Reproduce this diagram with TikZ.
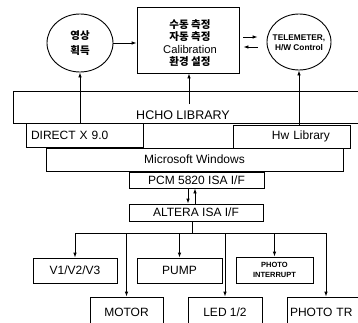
\documentclass[tikz,border=0pt]{standalone}
\usepackage{fontspec}
\setmainfont{Liberation Sans}
\newfontfamily\kr{Noto Sans CJK KR}
\usetikzlibrary{shapes.geometric,arrows.meta}
\begin{document}
\begin{tikzpicture}[x=1pt,y=-1pt,
  box/.style={draw, line width=0.9pt, rectangle, inner sep=0pt, font=\fontsize{12}{13.5}\selectfont},
  oval/.style={draw, line width=0.9pt, ellipse, inner sep=0pt},
  txt/.style={inner sep=0pt, align=center},
  arr/.style={line width=0.9pt, -{Latex[length=5pt,width=3.6pt]}},
  ln/.style={line width=0.9pt}]
\useasboundingbox (0,0) rectangle (358,322);
\clip (0,0) rectangle (358,322);
% top row
\node[oval, minimum width=66pt, minimum height=58pt] (acq) at (80,43) {};
\node[txt, font={\kr\bfseries\fontsize{10.5}{15}\selectfont}] (acqtxt) at (80,43) {영상\\획득};
\node[box, minimum width=102pt, minimum height=66pt] (main) at (188,40) {};
\node[txt, font=\fontsize{11.2}{12.6}\selectfont] (maintxt) at (190,43)
  {{\kr\bfseries\fontsize{10.5}{12.6}\selectfont 수동 측정}\\{\kr\bfseries\fontsize{10.5}{12.6}\selectfont 자동 측정}\\Calibration\\{\kr\bfseries\fontsize{10.5}{12.6}\selectfont 환경 설정}};
\node[oval, minimum width=64pt, minimum height=56pt] (tele) at (299,42) {};
\node[txt, font=\bfseries\fontsize{8.3}{10}\selectfont] (teletxt) at (299,43) {TELEMETER,\\H/W Control};
% libraries
\node[box, minimum width=349pt, minimum height=32pt] (hcho) at (187.5,107) {};
\node[txt, font=\fontsize{12.5}{14}\selectfont] (hchotxt) at (183,115) {HCHO LIBRARY};
\node[box, minimum height=24pt, text width=107pt, align=left, inner xsep=5pt] (dx) at (84.5,135) {DIRECT X 9.0};
\node[box, minimum height=23pt, text width=77pt, align=right, inner xsep=20pt] (hw) at (291.5,136.5) {Hw Library};
\node[box, minimum width=297pt, minimum height=23pt] (ms) at (194.5,159.5) {Microsoft Windows};
\node[box, minimum width=135pt, minimum height=16pt] (pcm) at (196.5,180) {PCM 5820 ISA I/F};
\node[box, minimum width=134pt, minimum height=17pt] (alt) at (196,212.5) {ALTERA ISA I/F};
% devices
\node[box, minimum width=84pt, minimum height=25pt] (v1) at (75,270.5) {V1/V2/V3};
\node[box, minimum width=85pt, minimum height=25pt] (pump) at (179.5,270.5) {PUMP};
\node[box, minimum width=77pt, minimum height=26pt, align=center, font=\bfseries\fontsize{7.5}{10}\selectfont] (pint) at (274.5,270) {PHOTO\\INTERRUPT};
\node[box, minimum width=73pt, minimum height=30pt] (motor) at (126.5,312) {MOTOR};
\node[box, minimum width=74pt, minimum height=30pt] (led) at (225,312) {LED 1/2};
\node[box, minimum height=30pt, text width=72pt, align=left, inner xsep=3pt] (ptr) at (326,312) {PHOTO TR};
% connectors top
\draw[arr] (acq.east) -- (acq.east -| main.west);
\draw[arr] ([xshift=4pt,yshift=3pt]main.east) -- ([xshift=-9pt,yshift=5pt]tele.west);
\draw[arr] ([xshift=-9pt,yshift=-5pt]tele.west) -- ([xshift=4pt,yshift=-7pt]main.east);
\draw[arr] (acq.south |- dx.north) -- (acq.south);
\coordinate (mstart) at (189,104);
\draw[arr] (mstart) -- (mstart |- main.south);
\draw[arr] (tele.south |- hw.north) -- (tele.south);
% pcm <-> altera
\draw[arr] ([xshift=-8.5pt]pcm.south) -- ([xshift=-8pt]alt.north);
\draw[arr] ([xshift=-1pt]alt.north) -- ([xshift=-1.5pt]pcm.south);
% bus
\coordinate (busL) at (75,233);
\coordinate (busR) at (326,233);
\coordinate (busM) at (192,233);
\draw[ln] ([xshift=-4pt]alt.south) -- (busM);
\draw[ln] (busL) -- (busR);
\foreach \n in {v1,pump,pint,motor,led,ptr}
  \draw[arr] (\n.north |- busL) -- (\n.north);
\end{tikzpicture}
\end{document}
